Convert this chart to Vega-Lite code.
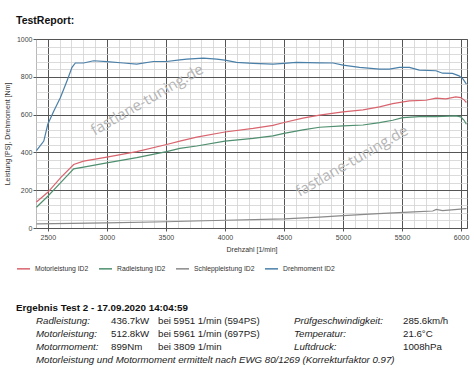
{
  "$schema": "https://vega.github.io/schema/vega-lite/v6.json",
  "background": "white",
  "padding": {"left": 2, "top": 15, "right": 4, "bottom": 4},
  "config": {"font": "Liberation Sans", "view": {"stroke": "#555", "strokeWidth": 1}},
  "spacing": 50,
  "datasets": {
    "curves": [
      {"rpm": 2404, "series": "Drehmoment ID2", "value": 410},
      {"rpm": 2466, "series": "Drehmoment ID2", "value": 460},
      {"rpm": 2500, "series": "Drehmoment ID2", "value": 549},
      {"rpm": 2551, "series": "Drehmoment ID2", "value": 619},
      {"rpm": 2607, "series": "Drehmoment ID2", "value": 690},
      {"rpm": 2663, "series": "Drehmoment ID2", "value": 779},
      {"rpm": 2705, "series": "Drehmoment ID2", "value": 850},
      {"rpm": 2733, "series": "Drehmoment ID2", "value": 873},
      {"rpm": 2803, "series": "Drehmoment ID2", "value": 873},
      {"rpm": 2888, "series": "Drehmoment ID2", "value": 885},
      {"rpm": 3000, "series": "Drehmoment ID2", "value": 880},
      {"rpm": 3140, "series": "Drehmoment ID2", "value": 873},
      {"rpm": 3253, "series": "Drehmoment ID2", "value": 867},
      {"rpm": 3393, "series": "Drehmoment ID2", "value": 881},
      {"rpm": 3506, "series": "Drehmoment ID2", "value": 881},
      {"rpm": 3618, "series": "Drehmoment ID2", "value": 890},
      {"rpm": 3677, "series": "Drehmoment ID2", "value": 894},
      {"rpm": 3817, "series": "Drehmoment ID2", "value": 899},
      {"rpm": 3930, "series": "Drehmoment ID2", "value": 894},
      {"rpm": 4000, "series": "Drehmoment ID2", "value": 888},
      {"rpm": 4098, "series": "Drehmoment ID2", "value": 876},
      {"rpm": 4239, "series": "Drehmoment ID2", "value": 871},
      {"rpm": 4407, "series": "Drehmoment ID2", "value": 867},
      {"rpm": 4500, "series": "Drehmoment ID2", "value": 871},
      {"rpm": 4604, "series": "Drehmoment ID2", "value": 876},
      {"rpm": 4801, "series": "Drehmoment ID2", "value": 874},
      {"rpm": 4916, "series": "Drehmoment ID2", "value": 873},
      {"rpm": 5000, "series": "Drehmoment ID2", "value": 862},
      {"rpm": 5140, "series": "Drehmoment ID2", "value": 850},
      {"rpm": 5309, "series": "Drehmoment ID2", "value": 841},
      {"rpm": 5393, "series": "Drehmoment ID2", "value": 841},
      {"rpm": 5478, "series": "Drehmoment ID2", "value": 850},
      {"rpm": 5562, "series": "Drehmoment ID2", "value": 850},
      {"rpm": 5646, "series": "Drehmoment ID2", "value": 835},
      {"rpm": 5787, "series": "Drehmoment ID2", "value": 832},
      {"rpm": 5843, "series": "Drehmoment ID2", "value": 819},
      {"rpm": 5927, "series": "Drehmoment ID2", "value": 818},
      {"rpm": 5983, "series": "Drehmoment ID2", "value": 805},
      {"rpm": 6017, "series": "Drehmoment ID2", "value": 788},
      {"rpm": 6045, "series": "Drehmoment ID2", "value": 761},

      {"rpm": 2404, "series": "Motorleistung ID2", "value": 138},
      {"rpm": 2500, "series": "Motorleistung ID2", "value": 189},
      {"rpm": 2607, "series": "Motorleistung ID2", "value": 265},
      {"rpm": 2719, "series": "Motorleistung ID2", "value": 336},
      {"rpm": 2803, "series": "Motorleistung ID2", "value": 354},
      {"rpm": 3000, "series": "Motorleistung ID2", "value": 375},
      {"rpm": 3253, "series": "Motorleistung ID2", "value": 404},
      {"rpm": 3506, "series": "Motorleistung ID2", "value": 442},
      {"rpm": 3618, "series": "Motorleistung ID2", "value": 460},
      {"rpm": 3761, "series": "Motorleistung ID2", "value": 481},
      {"rpm": 4000, "series": "Motorleistung ID2", "value": 508},
      {"rpm": 4239, "series": "Motorleistung ID2", "value": 527},
      {"rpm": 4407, "series": "Motorleistung ID2", "value": 543},
      {"rpm": 4500, "series": "Motorleistung ID2", "value": 558},
      {"rpm": 4660, "series": "Motorleistung ID2", "value": 581},
      {"rpm": 4801, "series": "Motorleistung ID2", "value": 597},
      {"rpm": 5000, "series": "Motorleistung ID2", "value": 614},
      {"rpm": 5169, "series": "Motorleistung ID2", "value": 625},
      {"rpm": 5309, "series": "Motorleistung ID2", "value": 641},
      {"rpm": 5421, "series": "Motorleistung ID2", "value": 658},
      {"rpm": 5562, "series": "Motorleistung ID2", "value": 673},
      {"rpm": 5702, "series": "Motorleistung ID2", "value": 676},
      {"rpm": 5787, "series": "Motorleistung ID2", "value": 687},
      {"rpm": 5871, "series": "Motorleistung ID2", "value": 683},
      {"rpm": 5955, "series": "Motorleistung ID2", "value": 694},
      {"rpm": 5997, "series": "Motorleistung ID2", "value": 690},
      {"rpm": 6025, "series": "Motorleistung ID2", "value": 678},
      {"rpm": 6045, "series": "Motorleistung ID2", "value": 664},

      {"rpm": 2404, "series": "Radleistung ID2", "value": 110},
      {"rpm": 2500, "series": "Radleistung ID2", "value": 168},
      {"rpm": 2607, "series": "Radleistung ID2", "value": 239},
      {"rpm": 2719, "series": "Radleistung ID2", "value": 313},
      {"rpm": 2803, "series": "Radleistung ID2", "value": 322},
      {"rpm": 3000, "series": "Radleistung ID2", "value": 345},
      {"rpm": 3253, "series": "Radleistung ID2", "value": 372},
      {"rpm": 3506, "series": "Radleistung ID2", "value": 404},
      {"rpm": 3618, "series": "Radleistung ID2", "value": 421},
      {"rpm": 3761, "series": "Radleistung ID2", "value": 434},
      {"rpm": 4000, "series": "Radleistung ID2", "value": 460},
      {"rpm": 4239, "series": "Radleistung ID2", "value": 474},
      {"rpm": 4407, "series": "Radleistung ID2", "value": 487},
      {"rpm": 4500, "series": "Radleistung ID2", "value": 501},
      {"rpm": 4660, "series": "Radleistung ID2", "value": 519},
      {"rpm": 4801, "series": "Radleistung ID2", "value": 533},
      {"rpm": 5000, "series": "Radleistung ID2", "value": 540},
      {"rpm": 5169, "series": "Radleistung ID2", "value": 545},
      {"rpm": 5309, "series": "Radleistung ID2", "value": 558},
      {"rpm": 5421, "series": "Radleistung ID2", "value": 570},
      {"rpm": 5506, "series": "Radleistung ID2", "value": 584},
      {"rpm": 5646, "series": "Radleistung ID2", "value": 589},
      {"rpm": 5787, "series": "Radleistung ID2", "value": 589},
      {"rpm": 5955, "series": "Radleistung ID2", "value": 593},
      {"rpm": 5997, "series": "Radleistung ID2", "value": 588},
      {"rpm": 6025, "series": "Radleistung ID2", "value": 570},
      {"rpm": 6045, "series": "Radleistung ID2", "value": 549},

      {"rpm": 2404, "series": "Schleppleistung ID2", "value": 22},
      {"rpm": 2700, "series": "Schleppleistung ID2", "value": 24},
      {"rpm": 3000, "series": "Schleppleistung ID2", "value": 27},
      {"rpm": 3500, "series": "Schleppleistung ID2", "value": 33},
      {"rpm": 4000, "series": "Schleppleistung ID2", "value": 41},
      {"rpm": 4500, "series": "Schleppleistung ID2", "value": 48},
      {"rpm": 4800, "series": "Schleppleistung ID2", "value": 58},
      {"rpm": 5000, "series": "Schleppleistung ID2", "value": 65},
      {"rpm": 5300, "series": "Schleppleistung ID2", "value": 76},
      {"rpm": 5600, "series": "Schleppleistung ID2", "value": 85},
      {"rpm": 5760, "series": "Schleppleistung ID2", "value": 90},
      {"rpm": 5790, "series": "Schleppleistung ID2", "value": 98},
      {"rpm": 5843, "series": "Schleppleistung ID2", "value": 92},
      {"rpm": 6045, "series": "Schleppleistung ID2", "value": 103}
    ],
    "watermark": [
      {"rpm": 3340, "value": 679, "text": "fastlane-tuning.de"},
      {"rpm": 5075, "value": 355, "text": "fastlane-tuning.de"}
    ],
    "report": [
      {"row": 1, "col": "l1", "text": "Radleistung:"},
      {"row": 1, "col": "v1", "text": "436.7kW"},
      {"row": 1, "col": "b1", "text": "bei 5951 1/min (594PS)"},
      {"row": 1, "col": "l2", "text": "Prüfgeschwindigkeit:"},
      {"row": 1, "col": "v2", "text": "285.6km/h"},
      {"row": 2, "col": "l1", "text": "Motorleistung:"},
      {"row": 2, "col": "v1", "text": "512.8kW"},
      {"row": 2, "col": "b1", "text": "bei 5961 1/min (697PS)"},
      {"row": 2, "col": "l2", "text": "Temperatur:"},
      {"row": 2, "col": "v2", "text": "21.6°C"},
      {"row": 3, "col": "l1", "text": "Motormoment:"},
      {"row": 3, "col": "v1", "text": "899Nm"},
      {"row": 3, "col": "b1", "text": "bei 3809 1/min"},
      {"row": 3, "col": "l2", "text": "Luftdruck:"},
      {"row": 3, "col": "v2", "text": "1008hPa"},
      {"row": 4, "col": "l1", "text": "Motorleistung und Motormoment ermittelt nach EWG 80/1269 (Korrekturfaktor 0.97)"}
    ]
  },
  "vconcat": [
    {
      "title": {"text": "TestReport:", "anchor": "start", "frame": "group", "dx": -20, "fontSize": 10.5, "fontWeight": "bold", "color": "#111", "offset": 9},
      "width": 431,
      "height": 189,
      "layer": [
        {
          "data": {"name": "curves"},
          "mark": {"type": "line", "opacity": 0},
          "encoding": {
            "x": {"field": "rpm", "type": "quantitative", "scale": {"domain": [2400, 6050], "nice": false, "zero": false},
              "axis": {"orient": "top", "values": [2400,2600,2700,2800,2900,3100,3200,3300,3400,3600,3700,3800,3900,4100,4200,4300,4400,4600,4700,4800,4900,5100,5200,5300,5400,5600,5700,5800,5900,6000], "grid": true, "gridColor": "#d2d2d2", "gridWidth": 0.8, "labels": false, "ticks": false, "domain": false, "title": null}},
            "y": {"field": "value", "type": "quantitative", "scale": {"domain": [0, 1000], "nice": false},
              "axis": {"orient": "right", "values": [40,80,120,160,240,280,320,360,440,480,520,560,640,680,720,760,840,880,920,960], "grid": true, "gridColor": "#d2d2d2", "gridWidth": 0.8, "labels": false, "ticks": false, "domain": false, "title": null}}
          }
        },
        {
          "data": {"name": "watermark"},
          "mark": {"type": "text", "angle": 330, "fontSize": 15, "font": "Open Sans", "color": "#b5b5b5", "align": "center", "baseline": "middle"},
          "encoding": {
            "x": {"field": "rpm", "type": "quantitative", "axis": null},
            "y": {"field": "value", "type": "quantitative", "axis": null},
            "text": {"field": "text"}
          }
        },
        {
          "data": {"name": "curves"},
          "mark": {"type": "line", "strokeWidth": 1.2},
          "encoding": {
            "x": {"field": "rpm", "type": "quantitative",
              "axis": {"orient": "bottom", "values": [2500,3000,3500,4000,4500,5000,5500,6000], "format": "d", "grid": true, "gridColor": "#555", "gridWidth": 1, "domain": false, "tickSize": 3, "tickColor": "#555", "labelFontSize": 7, "labelColor": "#444", "labelPadding": 2, "title": "Drehzahl [1/min]", "titleFontSize": 7, "titleFontWeight": "normal", "titleColor": "#333", "titlePadding": 5}},
            "y": {"field": "value", "type": "quantitative",
              "axis": {"orient": "left", "values": [0,200,400,600,800,1000], "format": "d", "grid": true, "gridColor": "#555", "gridWidth": 1, "domain": false, "tickSize": 3, "tickColor": "#555", "labelFontSize": 7, "labelColor": "#444", "labelPadding": 1, "title": "Leistung [PS], Drehmoment [Nm]", "titleFontSize": 7, "titleFontWeight": "normal", "titleColor": "#333", "titlePadding": 6}},
            "color": {"field": "series", "type": "nominal",
              "scale": {"domain": ["Motorleistung ID2", "Radleistung ID2", "Schleppleistung ID2", "Drehmoment ID2"], "range": ["#d9646e", "#4f8f6f", "#8a8a8a", "#4a7fa8"]},
              "legend": {"orient": "none", "legendX": -20, "legendY": 222, "direction": "horizontal", "title": null, "symbolType": "stroke", "symbolSize": 169, "symbolStrokeWidth": 1.5, "labelFontSize": 6.8, "labelColor": "#333", "columnPadding": 7, "labelOffset": 4}}
          }
        }
      ],
      "resolve": {"axis": {"x": "independent", "y": "independent"}}
    },
    {
      "title": {"text": "Ergebnis Test 2 - 17.09.2020 14:04:59", "anchor": "start", "frame": "group", "dx": -20, "fontSize": 9.8, "fontWeight": "bold", "color": "#111", "offset": 3},
      "spacing": 0,
      "bounds": "flush",
      "hconcat": [
        {
          "width": 75, "height": 39, "view": {"stroke": null},
          "data": {"name": "report"},
          "transform": [{"filter": "datum.col === 'l1'"}],
          "mark": {"type": "text", "align": "left", "baseline": "middle", "fontSize": 9.7, "fontStyle": "italic", "color": "#222"},
          "encoding": {
            "x": {"field": "col", "type": "nominal", "bandPosition": 0, "scale": {"type": "band", "paddingInner": 0, "paddingOuter": 0}, "axis": null},
            "y": {"field": "row", "type": "quantitative", "scale": {"domain": [1, 4], "reverse": true, "nice": false, "zero": false}, "axis": null},
            "text": {"field": "text"}
          }
        },
        {
          "width": 47, "height": 39, "view": {"stroke": null},
          "data": {"name": "report"},
          "transform": [{"filter": "datum.col === 'v1'"}],
          "mark": {"type": "text", "align": "left", "baseline": "middle", "fontSize": 9.7, "color": "#222"},
          "encoding": {
            "x": {"field": "col", "type": "nominal", "bandPosition": 0, "scale": {"type": "band", "paddingInner": 0, "paddingOuter": 0}, "axis": null},
            "y": {"field": "row", "type": "quantitative", "scale": {"domain": [1, 4], "reverse": true, "nice": false, "zero": false}, "axis": null},
            "text": {"field": "text"}
          }
        },
        {
          "width": 136, "height": 39, "view": {"stroke": null},
          "data": {"name": "report"},
          "transform": [{"filter": "datum.col === 'b1'"}],
          "mark": {"type": "text", "align": "left", "baseline": "middle", "fontSize": 9.7, "color": "#222"},
          "encoding": {
            "x": {"field": "col", "type": "nominal", "bandPosition": 0, "scale": {"type": "band", "paddingInner": 0, "paddingOuter": 0}, "axis": null},
            "y": {"field": "row", "type": "quantitative", "scale": {"domain": [1, 4], "reverse": true, "nice": false, "zero": false}, "axis": null},
            "text": {"field": "text"}
          }
        },
        {
          "width": 109, "height": 39, "view": {"stroke": null},
          "data": {"name": "report"},
          "transform": [{"filter": "datum.col === 'l2'"}],
          "mark": {"type": "text", "align": "left", "baseline": "middle", "fontSize": 9.7, "fontStyle": "italic", "color": "#222"},
          "encoding": {
            "x": {"field": "col", "type": "nominal", "bandPosition": 0, "scale": {"type": "band", "paddingInner": 0, "paddingOuter": 0}, "axis": null},
            "y": {"field": "row", "type": "quantitative", "scale": {"domain": [1, 4], "reverse": true, "nice": false, "zero": false}, "axis": null},
            "text": {"field": "text"}
          }
        },
        {
          "width": 60, "height": 39, "view": {"stroke": null},
          "data": {"name": "report"},
          "transform": [{"filter": "datum.col === 'v2'"}],
          "mark": {"type": "text", "align": "left", "baseline": "middle", "fontSize": 9.7, "color": "#222"},
          "encoding": {
            "x": {"field": "col", "type": "nominal", "bandPosition": 0, "scale": {"type": "band", "paddingInner": 0, "paddingOuter": 0}, "axis": null},
            "y": {"field": "row", "type": "quantitative", "scale": {"domain": [1, 4], "reverse": true, "nice": false, "zero": false}, "axis": null},
            "text": {"field": "text"}
          }
        }
      ]
    }
  ]
}
